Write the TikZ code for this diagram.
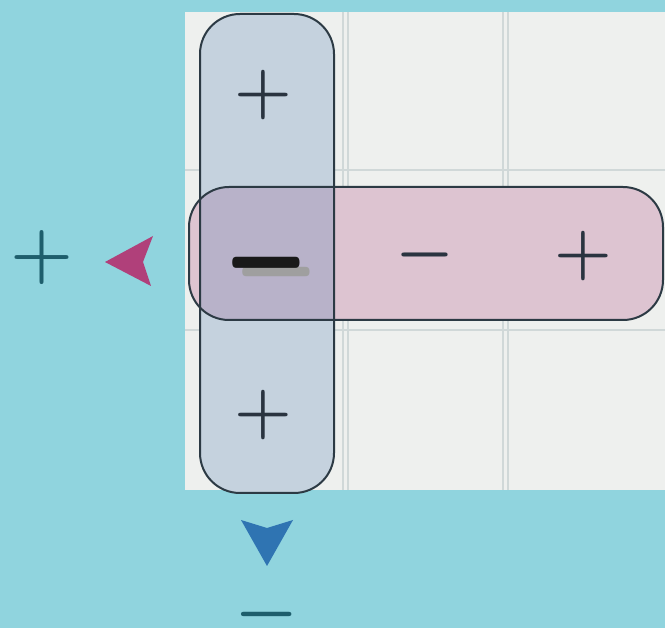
\RequirePackage{fix-cm}
\documentclass[tikz,border=0pt]{standalone}
\usetikzlibrary{calc}
\definecolor{bg}{HTML}{90D4DE}
\definecolor{gridfill}{HTML}{EEF0EE}
\definecolor{gridline}{HTML}{D0D8D8}
\definecolor{vfill}{HTML}{C5D2DE}
\definecolor{hfill}{HTML}{DDC4D1}
\definecolor{ofill}{HTML}{B8B2C9}
\definecolor{edge}{HTML}{2C3A44}
\definecolor{sign}{HTML}{2A3440}
\definecolor{teal}{HTML}{1E5E6C}
\definecolor{magarrow}{HTML}{B0407A}
\definecolor{bluearrow}{HTML}{2F74B2}
\begin{document}
\begin{tikzpicture}[x=1pt,y=-1pt,
  signtxt/.style={text=sign,inner sep=0pt,font=\fontsize{66}{66}\selectfont\boldmath},
  outsign/.style={text=teal,inner sep=0pt,font=\fontsize{72}{72}\selectfont\boldmath},
  band/.style={draw=edge,line width=2pt,rounded corners=40pt}]
\useasboundingbox (0,0) rectangle (665,628);
\fill[bg] (0,0) rectangle (665,628);
% grid
\fill[gridfill] (185,12) rectangle (665,490);
\foreach \x in {343,348,503,508} \draw[gridline,line width=1.2pt] (\x,12) -- (\x,490);
\foreach \y in {170,330} \draw[gridline,line width=1.2pt] (185,\y) -- (665,\y);
% bands
\fill[hfill,rounded corners=40pt] (189,187) rectangle (663,320);
\fill[vfill,rounded corners=40pt] (200,14) rectangle (334,493);
\begin{scope}
\clip[rounded corners=40pt] (200,14) rectangle (334,493);
\fill[ofill,rounded corners=40pt] (189,187) rectangle (663,320);
\end{scope}
\draw[band] (189,187) rectangle (663,320);
\draw[band] (200,14) rectangle (334,493);
% signs in cells
\node[text=gray!75,inner sep=0pt,font=\fontsize{96}{96}\selectfont\boldmath] (c21s) at (276,272) {\scalebox{1}[1.6]{$-$}};
\node[text=black!90,inner sep=0pt,font=\fontsize{96}{96}\selectfont\boldmath] (c21) at (266,263) {\scalebox{1}[1.9]{$-$}};
\node[signtxt] (c11) at (263,95) {$+$};
\node[signtxt] (c22) at (425,255) {$-$};
\node[signtxt] (c23) at (583,256) {$+$};
\node[signtxt] (c31) at (263,415) {$+$};
% outer results
\node[outsign] (left) at (42,258) {$+$};
\node[outsign] (bottom) at (267,615) {$-$};
% arrowheads
\coordinate (lt) at (105,262);
\coordinate (bt) at (267,566);
\fill[magarrow] (lt) -- ($(lt)+(48,-26)$) -- ($(lt)+(38,0)$) -- ($(lt)+(46,24)$) -- cycle;
\fill[bluearrow] (bt) -- ($(bt)+(-26,-46)$) -- ($(bt)+(0,-38)$) -- ($(bt)+(26,-46)$) -- cycle;
\end{tikzpicture}
\end{document}
